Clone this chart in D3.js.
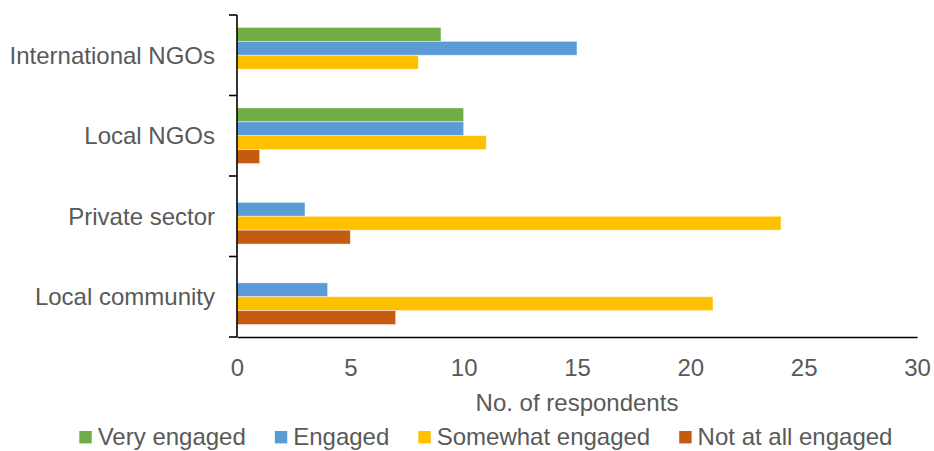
<!DOCTYPE html>
<html>
<head>
<meta charset="utf-8">
<script src="https://cdn.jsdelivr.net/npm/d3@7"></script>
<style>
  html, body { margin: 0; padding: 0; background: #fff; }
  svg { display: block; font-family: "Liberation Sans", Arial, sans-serif; }
</style>
</head>
<body>
<svg id="chart" width="934" height="451"></svg>
<script>
const categories = ["International NGOs", "Local NGOs", "Private sector", "Local community"];
const seriesNames = ["Very engaged", "Engaged", "Somewhat engaged", "Not at all engaged"];
const veryEngaged = [9, 10, 0, 0];
const engaged = [15, 10, 3, 4];
const somewhatEngaged = [8, 11, 24, 21];
const notAtAllEngaged = [0, 1, 5, 7];
const xTicks = [0, 5, 10, 15, 20, 25, 30];
const colors = ["#70AD47", "#5B9BD5", "#FFC000", "#C55A11"];
const xTitle = "No. of respondents";

const seriesValues = [veryEngaged, engaged, somewhatEngaged, notAtAllEngaged];

const svg = d3.select("#chart");
const textColor = "#595959";
const fontSize = 24;

const plotLeft = 237, plotRight = 917, plotTop = 15, plotBottom = 337;

const x = d3.scaleLinear().domain([0, 30]).range([plotLeft, plotRight]);
const p = 0.309;
const y = d3.scaleBand().domain(categories).range([plotTop, plotBottom]).paddingInner(p).paddingOuter(p / 2);
const ySub = d3.scaleBand().domain(seriesNames).range([0, y.bandwidth()]).padding(0);

// bars
const rows = [];
categories.forEach((c, ci) => {
  seriesNames.forEach((s, si) => {
    rows.push({cat: c, series: s, value: seriesValues[si][ci], color: colors[si]});
  });
});

svg.append("g").selectAll("rect")
  .data(rows.filter(d => d.value > 0))
  .join("rect")
  .attr("x", x(0))
  .attr("y", d => y(d.cat) + ySub(d.series))
  .attr("width", d => x(d.value) - x(0))
  .attr("height", ySub.bandwidth())
  .attr("fill", d => d.color)
  .attr("stroke", "rgba(255,255,255,0.6)")
  .attr("stroke-width", 0.75);

// x axis
const xAxis = svg.append("g")
  .attr("transform", `translate(0,${plotBottom})`)
  .call(d3.axisBottom(x).tickValues(xTicks).tickSize(0).tickPadding(22).tickFormat(d3.format("d")));
xAxis.select(".domain").attr("stroke", "#000").attr("stroke-width", 1.6);
xAxis.selectAll("text")
  .attr("fill", textColor)
  .attr("font-size", fontSize)
  .attr("font-family", "Liberation Sans, Arial, sans-serif");

// y axis (ticks at category boundaries)
const step = y.step();
const boundaries = d3.range(categories.length + 1).map(i => plotTop + i * step);
const yAxis = svg.append("g");
yAxis.append("line")
  .attr("x1", plotLeft).attr("x2", plotLeft)
  .attr("y1", plotTop).attr("y2", plotBottom)
  .attr("stroke", "#000").attr("stroke-width", 1.6);
yAxis.selectAll("line.tick")
  .data(boundaries)
  .join("line")
  .attr("class", "tick")
  .attr("x1", plotLeft - 8).attr("x2", plotLeft)
  .attr("y1", d => d).attr("y2", d => d)
  .attr("stroke", "#000").attr("stroke-width", 1.6);
yAxis.selectAll("text")
  .data(categories)
  .join("text")
  .attr("x", 215)
  .attr("y", d => y(d) + y.bandwidth() / 2)
  .attr("dy", "0.35em")
  .attr("text-anchor", "end")
  .attr("fill", textColor)
  .attr("font-size", fontSize)
  .text(d => d);

// axis title
svg.append("text")
  .attr("x", (plotLeft + plotRight) / 2)
  .attr("y", 411)
  .attr("text-anchor", "middle")
  .attr("fill", textColor)
  .attr("font-size", fontSize)
  .text(xTitle);

// legend
const legend = svg.append("g");
let lx = 79.3;
seriesNames.forEach((s, i) => {
  legend.append("rect")
    .attr("x", lx).attr("y", 431)
    .attr("width", 12.4).attr("height", 12.4)
    .attr("fill", colors[i]);
  const t = legend.append("text")
    .attr("x", lx + 18.4)
    .attr("y", 445)
    .attr("fill", textColor)
    .attr("font-size", fontSize)
    .text(s);
  lx = lx + 18.4 + t.node().getComputedTextLength() + 29;
});
</script>
</body>
</html>
